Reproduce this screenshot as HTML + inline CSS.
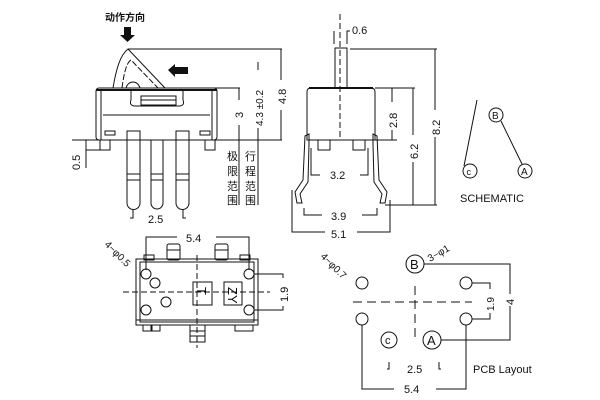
<!DOCTYPE html>
<html><head><meta charset="utf-8"><style>
html,body{margin:0;padding:0;background:#fff;width:600px;height:400px;overflow:hidden}
svg{display:block}
text{font-family:"Liberation Sans","Noto Sans CJK SC",sans-serif;fill:#111}
</style></head><body>
<svg width="600" height="400" viewBox="0 0 600 400" stroke="#111" fill="none" stroke-width="1">
<!-- ===== Side view (left) ===== -->
<text x="105" y="21" font-size="10" font-weight="bold" stroke="none">动作方向</text>
<polygon points="124,27 131,27 131,35 135,35 127.5,42 120,35 124,35" fill="#111" stroke="none"/>
<polygon points="168,70 175,64 175,67 188,67 188,74 175,74 175,77" fill="#111" stroke="none"/>
<!-- lever -->
<path d="M113,88 C116,70 120,55 128,49 L165,88"/>
<path d="M122,88 C124,72 127,62 131,60 L158,88" stroke-dasharray="6,2"/>
<path d="M126,88 C128,80 138,80 140,88"/>
<!-- body -->
<rect x="96" y="88" width="121" height="52" rx="3"/>
<line x1="96" y1="90" x2="217" y2="90" stroke-width="2"/>
<line x1="101" y1="90" x2="101" y2="140"/><line x1="212" y1="90" x2="212" y2="140"/>
<path d="M103,115 L210,115"/>
<path d="M131,90 L131,100 Q129,105 134,106 L180,106 Q185,105 183,100 L183,90"/>
<rect x="141" y="96" width="35" height="9"/>
<line x1="141" y1="100" x2="176" y2="100"/>
<rect x="105" y="131" width="10" height="4"/><rect x="200" y="131" width="10" height="4"/>
<rect x="100" y="140" width="10" height="10"/><rect x="205" y="140" width="10" height="10"/>
<line x1="72" y1="140" x2="282" y2="140"/>
<!-- pins -->
<path d="M127,131 V203 a6.5,6.5 0 0 0 13,0 V131 Z"/>
<path d="M151,140 V203 a6,6 0 0 0 12,0 V140"/>
<path d="M176,131 V203 a6.5,6.5 0 0 0 13,0 V131 Z"/>
<line x1="127" y1="174" x2="140" y2="174"/><line x1="127" y1="180" x2="140" y2="180"/>
<line x1="151" y1="174" x2="163" y2="174"/><line x1="151" y1="180" x2="163" y2="180"/>
<line x1="176" y1="174" x2="189" y2="174"/><line x1="176" y1="180" x2="189" y2="180"/>
<path d="M133,210 V218 H130"/><path d="M183,210 V218 H186"/>
<text x="148" y="223" font-size="11" stroke="none">2.5</text>
<!-- 0.5 -->
<line x1="86" y1="150" x2="100" y2="150"/><line x1="86" y1="140" x2="86" y2="168"/>
<text transform="translate(80,170) rotate(-90)" font-size="11" stroke="none">0.5</text>
<!-- right dims side view -->
<line x1="165" y1="88" x2="240" y2="88"/>
<line x1="239" y1="88" x2="239" y2="100"/><line x1="239" y1="125" x2="239" y2="205"/>
<text transform="translate(243,118) rotate(-90)" font-size="11" stroke="none">3</text>
<line x1="258" y1="62" x2="258" y2="70"/><line x1="258" y1="128" x2="258" y2="205"/>
<text transform="translate(263,126) rotate(-90)" font-size="10" stroke="none">4.3 ±0.2</text>
<line x1="128" y1="49" x2="282" y2="49"/>
<line x1="281" y1="49" x2="281" y2="80"/><line x1="281" y1="110" x2="281" y2="140"/>
<text transform="translate(286,104) rotate(-90)" font-size="11" stroke="none">4.8</text>
<g font-size="11" stroke="none">
<text x="227" y="160">极</text><text x="227" y="175">限</text><text x="227" y="190">范</text><text x="227" y="204">围</text>
<text x="245" y="160">行</text><text x="245" y="175">程</text><text x="245" y="190">范</text><text x="245" y="204">围</text>
</g>
<!-- ===== Front view (middle) ===== -->
<line x1="340" y1="14" x2="340" y2="140" stroke-dasharray="6,3"/>
<path d="M334,31 V44"/><path d="M347,44 V31 H350"/>
<text x="352" y="34" font-size="11" stroke="none">0.6</text>
<rect x="335" y="48" width="12" height="40"/>
<path d="M307,140 V92 Q307,88 311,88 H371 Q375,88 375,92 V140 Z"/>
<line x1="309" y1="88" x2="373" y2="88" stroke-width="2"/>
<path d="M318,140 V150 H330 V140"/><path d="M353,140 V150 H365 V140"/>
<line x1="375" y1="140" x2="397" y2="140"/>
<!-- leads -->
<path d="M309,134 L305,136 L303,180 L295,192 L297,203 L302,203 L300,194 L308,182 L309,144 Z"/>
<path d="M373,134 L377,136 L379,180 L387,192 L385,203 L380,203 L382,194 L374,182 L373,144 Z"/>
<path d="M311,148 V175 H320"/><path d="M368,148 V175 H360"/>
<text x="330" y="179" font-size="11" stroke="none">3.2</text>
<path d="M304,208 V215 H322"/><path d="M377,208 V215 H362"/>
<text x="331" y="220" font-size="11" stroke="none">3.9</text>
<path d="M292,190 V232 H325"/><path d="M390,200 V232 H357"/>
<text x="331" y="238" font-size="11" stroke="none">5.1</text>
<line x1="375" y1="88" x2="415" y2="88"/>
<line x1="392" y1="88" x2="392" y2="102"/><line x1="392" y1="130" x2="392" y2="140"/>
<text transform="translate(397,128) rotate(-90)" font-size="11" stroke="none">2.8</text>
<line x1="413" y1="88" x2="413" y2="135"/><line x1="413" y1="162" x2="413" y2="205"/>
<text transform="translate(418,159) rotate(-90)" font-size="11" stroke="none">6.2</text>
<line x1="385" y1="205" x2="437" y2="205"/>
<line x1="350" y1="49" x2="437" y2="49"/>
<line x1="435" y1="49" x2="435" y2="110"/><line x1="435" y1="137" x2="435" y2="205"/>
<text transform="translate(440,135) rotate(-90)" font-size="11" stroke="none">8.2</text>
<!-- ===== Schematic ===== -->
<line x1="477" y1="100" x2="464" y2="166"/>
<circle cx="470" cy="171" r="7"/><text x="466.5" y="175" font-size="9" font-family="Liberation Serif" stroke="none">c</text>
<circle cx="496" cy="115" r="7"/><text x="492" y="119" font-size="10" font-family="Liberation Serif" stroke="none">B</text>
<line x1="501" y1="121" x2="522" y2="164"/>
<circle cx="525" cy="171" r="7"/><text x="521" y="175" font-size="10" font-family="Liberation Serif" stroke="none">A</text>
<text x="460" y="202" font-size="11" stroke="none">SCHEMATIC</text>
<!-- ===== Bottom view ===== -->
<path d="M146,270 V237 H177"/><path d="M249,270 V237 H216"/>
<text x="186" y="242" font-size="11" stroke="none">5.4</text>
<text transform="translate(104,245) rotate(45)" font-size="10" stroke="none">4−φ0.5</text>
<rect x="144" y="255" width="10" height="5"/><rect x="240" y="255" width="10" height="5"/>
<rect x="167" y="244" width="13" height="16" rx="2"/><rect x="215" y="244" width="13" height="16" rx="2"/>
<line x1="167" y1="250" x2="180" y2="250"/><line x1="215" y1="250" x2="228" y2="250"/>
<rect x="136" y="259" width="122" height="66"/>
<rect x="140" y="262" width="114" height="60"/>
<line x1="136" y1="320" x2="258" y2="320"/>
<rect x="143" y="325" width="8" height="6"/><rect x="152" y="325" width="8" height="6"/><rect x="235" y="325" width="18" height="6"/>
<rect x="190" y="325" width="15" height="17"/><line x1="190" y1="331" x2="205" y2="331"/><line x1="190" y1="336" x2="205" y2="336"/>
<circle cx="146" cy="274" r="5"/><circle cx="155" cy="283" r="5"/><circle cx="146" cy="310" r="5"/>
<circle cx="166" cy="302" r="5"/><circle cx="249" cy="274" r="5"/><circle cx="249" cy="310" r="5"/>
<line x1="123" y1="292" x2="270" y2="292" stroke-dasharray="6,3"/>
<line x1="197" y1="255" x2="197" y2="348" stroke-dasharray="6,3"/>
<rect x="193" y="282" width="19" height="23"/>
<text transform="translate(197,287) rotate(90)" font-size="13" font-family="Liberation Serif" stroke="none">T</text>
<rect x="224" y="282" width="18" height="23"/>
<text transform="translate(228,287) rotate(90)" font-size="13" font-family="Liberation Serif" stroke="none">ZY</text>
<path d="M254,274 H283 V278"/><path d="M254,310 H283 V306"/>
<text transform="translate(288,302) rotate(-90)" font-size="11" stroke="none">1.9</text>
<!-- ===== PCB layout ===== -->
<text transform="translate(320,257) rotate(45)" font-size="10" stroke="none">4−φ0.7</text>
<circle cx="362" cy="283" r="6"/><circle cx="466" cy="283" r="6"/>
<circle cx="362" cy="319" r="6"/><circle cx="466" cy="319" r="6"/>
<line x1="353" y1="302" x2="472" y2="302" stroke-dasharray="9,5"/>
<line x1="415" y1="286" x2="415" y2="342" stroke-dasharray="9,5"/>
<circle cx="415" cy="264" r="9"/><text x="410" y="269" font-size="13" font-family="Liberation Serif" stroke="none">B</text>
<text transform="translate(430,262) rotate(-30)" font-size="10" stroke="none">3−φ1</text>
<circle cx="389" cy="340" r="8"/><text x="385" y="344" font-size="11" font-family="Liberation Serif" stroke="none">c</text>
<circle cx="432" cy="340" r="9"/><text x="427" y="345" font-size="13" font-family="Liberation Serif" stroke="none">A</text>
<path d="M424,264 H510 V340 H441"/>
<rect x="505" y="294" width="10" height="12" fill="#fff" stroke="none"/>
<text transform="translate(514,305) rotate(-90)" font-size="11" stroke="none">4</text>
<path d="M472,283 H490 V289"/><path d="M472,319 H490 V313"/>
<text transform="translate(494,311) rotate(-90)" font-size="10" stroke="none">1.9</text>
<path d="M389,362 V369 H387"/><path d="M439,362 V369 H441"/>
<text x="407" y="373" font-size="11" stroke="none">2.5</text>
<text x="473" y="373" font-size="11" stroke="none">PCB Layout</text>
<path d="M362,325 V389 H394"/><path d="M466,325 V389 H436"/>
<text x="404" y="393" font-size="11" stroke="none">5.4</text>
</svg>
</body></html>
